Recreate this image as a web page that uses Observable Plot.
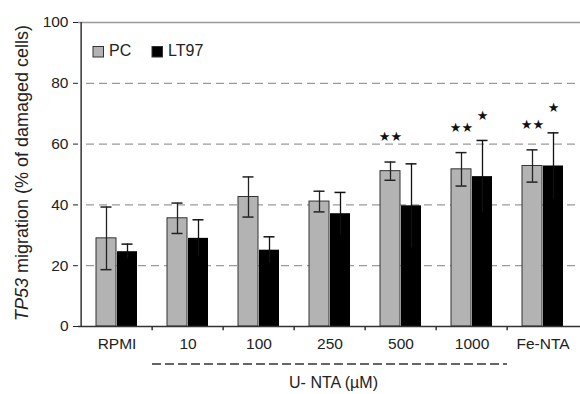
<!DOCTYPE html>
<html><head><meta charset="utf-8">
<script src="https://cdn.jsdelivr.net/npm/d3@7"></script>
<script src="https://cdn.jsdelivr.net/npm/@observablehq/plot@0.6"></script>
<style>body{margin:0;background:#fff}</style>
</head><body><div id="chart"></div>
<script>
const categories = ["RPMI","10","100","250","500","1000","Fe-NTA"];
const pcMean = [29, 35.6, 42.6, 41.1, 51.1, 51.7, 52.8];
const pcErr  = [10.3, 5.0, 6.6, 3.4, 3.0, 5.5, 5.3];
const ltMean = [24.6, 29.0, 25.1, 37.1, 39.7, 49.3, 52.8];
const ltErr  = [2.5, 6.1, 4.4, 7.0, 13.8, 11.9, 10.9];
const pcSig  = ["", "", "", "", "**", "**", "**"];
const ltSig  = ["", "", "", "", "", "*", "*"];
const yTicks = [0, 20, 40, 60, 80, 100];
const seriesNames = ["PC", "LT97"];
const yLabelItalic = "TP53";
const yLabelRest = " migration (% of damaged cells)";
const groupLabel = "U- NTA (µM)";
const groupFrom = "10", groupTo = "1000";

const rows = categories.map((c,i)=>({cat:c, pc:pcMean[i], pcErr:pcErr[i], lt:ltMean[i], ltErr:ltErr[i], pcSig:pcSig[i], ltSig:ltSig[i]}));

const W = 580, H = 394, ML = 78, MR = 0, MT = 22, MB = 68;
const step = (W - ML - MR) / categories.length;
const star = s => s.replace(/\*/g, "★");
const capL = 15 + 4.5, capR = 36 + 4.5;

const chart = Plot.plot({
  width: W, height: H, marginLeft: ML, marginRight: MR, marginTop: MT, marginBottom: MB,
  style: {fontFamily: "'Liberation Sans', Arial, sans-serif", fontSize: "15px", color: "#222", background: "white"},
  x: {domain: categories, padding: 0, label: null, tickSize: 0, tickPadding: 11},
  y: {domain: [0, 100], ticks: yTicks, label: null, tickSize: 5, tickPadding: 5},
  marks: [
    Plot.ruleY([20, 40, 60, 80], {stroke: "#9a9a9a", strokeDasharray: "8,5", strokeWidth: 1.2, insetLeft: 8}),
    Plot.ruleY([100], {stroke: "#999", strokeWidth: 1.5}),
    Plot.barY(rows, {x: "cat", y: "pc", fill: "#b3b3b3", stroke: "#333", strokeWidth: 1, insetLeft: 15, insetRight: 36}),
    Plot.barY(rows, {x: "cat", y: "lt", fill: "#000", insetLeft: 36, insetRight: 15}),
    Plot.ruleX(rows, {x: "cat", y1: d => d.pc - d.pcErr, y2: d => d.pc + d.pcErr, dx: -10.5, stroke: "#222", strokeWidth: 1.3}),
    Plot.tickY(rows, {x: "cat", y: d => d.pc + d.pcErr, insetLeft: capL, insetRight: capR, stroke: "#222", strokeWidth: 1.5}),
    Plot.tickY(rows, {x: "cat", y: d => d.pc - d.pcErr, insetLeft: capL, insetRight: capR, stroke: "#222", strokeWidth: 1.5}),
    Plot.ruleX(rows, {x: "cat", y1: d => d.lt - d.ltErr, y2: d => d.lt + d.ltErr, dx: 10.5, stroke: "#111", strokeWidth: 1.3}),
    Plot.tickY(rows, {x: "cat", y: d => d.lt + d.ltErr, insetLeft: capR, insetRight: capL, stroke: "#111", strokeWidth: 1.5}),
    Plot.text(rows, {x: "cat", y: d => d.pc + d.pcErr, text: d => star(d.pcSig), dx: -10.5, dy: -25, fontSize: 13, fontFamily: "DejaVu Sans", fill: "#111"}),
    Plot.text(rows, {x: "cat", y: d => d.lt + d.ltErr, text: d => star(d.ltSig), dx: 10.5, dy: -25, fontSize: 13, fontFamily: "DejaVu Sans", fill: "#111"}),
    Plot.ruleY([0], {stroke: "#333", strokeWidth: 1.5}),
    Plot.ruleX([categories[0]], {x: d => d, y1: 0, y2: 100, dx: -step / 2, stroke: "#333", strokeWidth: 1.5}),
    Plot.ruleX(categories.slice(1), {x: d => d, y1: 0, y2: -1.4, dx: -step / 2, stroke: "#333", strokeWidth: 1.5})
  ]
});
document.getElementById("chart").append(chart);

const svg = d3.select(chart);
svg.selectAll("g[aria-label$='tick label'] text").attr("font-size", 15.5);
svg.selectAll("g[aria-label$='tick label']").attr("font-size", 15.5);
const xs = chart.scale("x"), ys = chart.scale("y");
const bw = xs.bandwidth ?? step;
const gx0 = xs.apply(groupFrom), gx1 = xs.apply(groupTo) + bw;
svg.append("line").attr("x1", gx0).attr("x2", gx1).attr("y1", ys.apply(0) + 38).attr("y2", ys.apply(0) + 38)
  .attr("stroke", "#333").attr("stroke-width", 1.5).attr("stroke-dasharray", "9,4");
svg.append("text").attr("x", (gx0 + gx1) / 2 + 4).attr("y", ys.apply(0) + 58).attr("text-anchor", "middle")
  .attr("dominant-baseline", "middle").attr("font-size", 16).attr("fill", "#222").text(groupLabel);

const yl = svg.append("text").attr("transform", `translate(23,${(ys.apply(0) + ys.apply(100)) / 2 - 1}) rotate(-90)`)
  .attr("text-anchor", "middle").attr("dominant-baseline", "middle").attr("font-size", 18).attr("fill", "#222");
yl.append("tspan").attr("font-style", "italic").text(yLabelItalic);
yl.append("tspan").text(yLabelRest);

const lg = svg.append("g").attr("text-anchor", "start");
const legendItems = [{name: seriesNames[0], fill: "#b3b3b3", x: 93}, {name: seriesNames[1], fill: "#000", x: 152}];
legendItems.forEach(it => {
  lg.append("rect").attr("x", it.x).attr("y", 46.5).attr("width", 10.5).attr("height", 10.5).attr("fill", it.fill).attr("stroke", "#333");
  lg.append("text").attr("x", it.x + 16).attr("y", 52).attr("text-anchor", "start").attr("dominant-baseline", "middle").attr("font-size", 16).attr("fill", "#222").text(it.name);
});
</script></body></html>
